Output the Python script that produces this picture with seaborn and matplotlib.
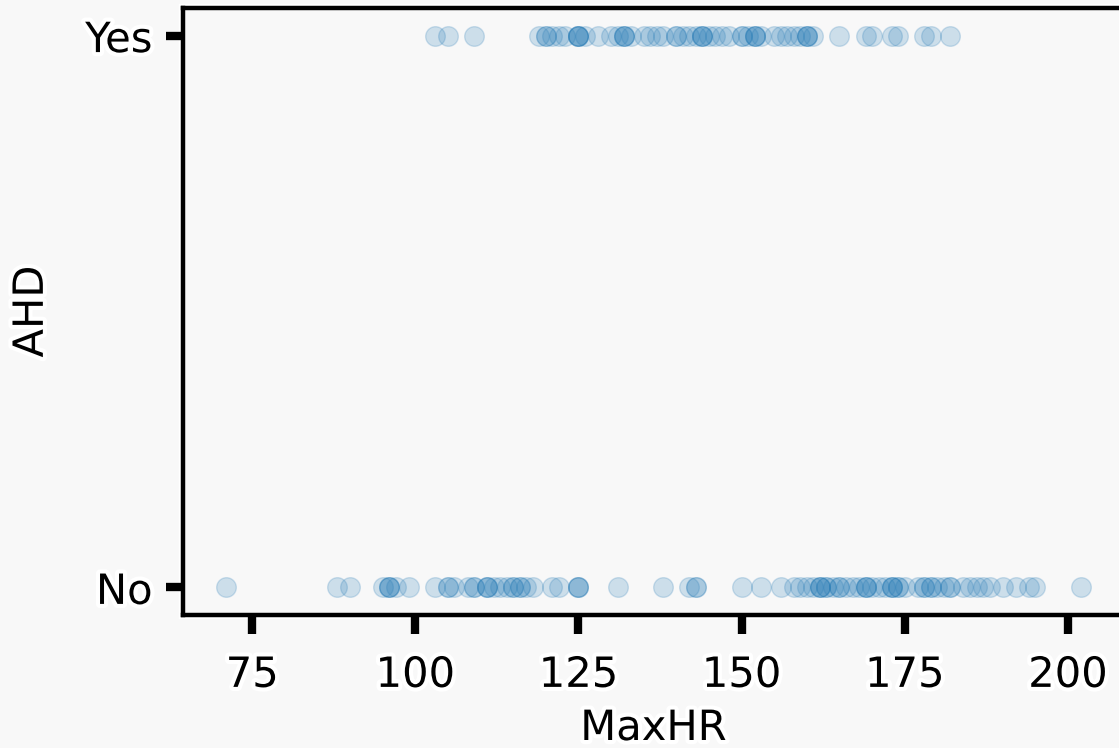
import matplotlib
matplotlib.use("Agg")
import matplotlib.pyplot as plt
import matplotlib.patheffects as pe
import pandas as pd
import seaborn as sns

# MaxHR values, one list per AHD row
maxhr_yes = [103, 105, 109,
             119, 120, 120, 121, 122, 123, 125, 125, 125, 125, 126, 128, 130,
             131, 132, 132, 132, 133, 135, 136, 137, 138, 140, 140, 141, 142,
             143, 144, 144, 144, 145, 146, 147, 148, 150, 150, 151, 152, 152,
             152, 153, 155, 156, 157, 158, 159, 160, 160, 160, 161,
             165, 169, 170, 173, 174, 178, 179, 182]
maxhr_no = [71, 88, 90, 95, 96, 96, 96, 97, 99, 103, 105, 105, 106, 108, 109,
            109, 111, 111, 111, 112, 113, 114, 115, 115, 116, 116, 117, 118,
            121, 122, 125, 125, 125, 131, 138, 142, 143, 143, 150, 153, 156,
            158, 159, 160, 161, 162, 162, 162, 163, 163, 164, 165, 165, 166,
            167, 168, 169, 169, 169, 170, 171, 172, 173, 173, 173, 174, 174,
            175, 177, 178, 178, 179, 179, 180, 181, 182, 182, 184, 185, 186,
            187, 188, 190, 192, 194, 195, 202]
ahd_labels = ["No", "Yes"]

df = pd.DataFrame({
    "MaxHR": maxhr_no + maxhr_yes,
    "AHD": [0] * len(maxhr_no) + [1] * len(maxhr_yes),
})

sns.set_theme(style="ticks")
bg = "#f8f8f8"
plt.rcParams.update({
    "font.family": ["DejaVu Sans"],
    "font.size": 30,
    "text.color": "black",
    "axes.labelcolor": "black",
    "xtick.color": "black",
    "ytick.color": "black",
    "figure.facecolor": bg,
    "axes.facecolor": bg,
    "axes.edgecolor": "black",
    "axes.linewidth": 3.2,
    "xtick.major.size": 14,
    "xtick.major.width": 6,
    "ytick.major.size": 12,
    "ytick.major.width": 6,
    "xtick.labelsize": 30,
    "ytick.labelsize": 30,
    "path.effects": [pe.withStroke(linewidth=6, foreground="white")],
})

fig = plt.figure(figsize=(11.19, 7.48), dpi=100)
ax = fig.add_axes([183 / 1119, 133 / 748, 941 / 1119, 607 / 748])

sns.scatterplot(data=df, x="MaxHR", y="AHD", s=200, alpha=0.2,
                color="#1f77b4", edgecolor="#1f77b4", linewidth=1, ax=ax)

ax.set_yticks([0, 1])
ax.set_yticklabels(ahd_labels)
ax.set_xticks([75, 100, 125, 150, 175, 200])
ax.set_xlim(64.4, 208.6)
ax.set_ylim(-0.05, 1.05)
ax.set_xlabel("MaxHR", fontsize=30, labelpad=8)
ax.set_ylabel("AHD", fontsize=30, labelpad=24)
ax.tick_params(axis="x", pad=14)
ax.tick_params(axis="y", pad=10)
for s in ax.spines.values():
    s.set_visible(True)
    s.set_path_effects([])

fig.savefig("out.png", dpi=100, facecolor=bg)
